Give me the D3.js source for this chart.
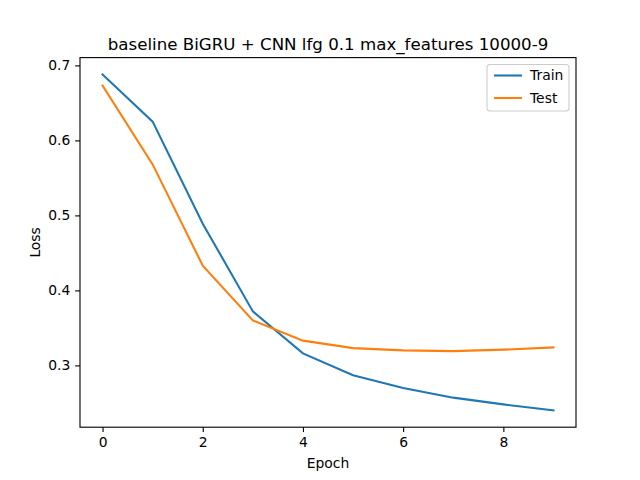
<!DOCTYPE html>
<html>
<head>
<meta charset="utf-8">
<script src="https://cdn.jsdelivr.net/npm/d3@7"></script>
<style>
  body { margin: 0; background: #fff; }
  text { font-family: "DejaVu Sans", sans-serif; fill: #000; }
</style>
</head>
<body>
<svg width="640" height="480"></svg>
<script>
// data
const epochs = [0, 1, 2, 3, 4, 5, 6, 7, 8, 9];
const trainLoss = [0.688, 0.625, 0.489, 0.372, 0.316, 0.287, 0.270, 0.257, 0.248, 0.240];
const testLoss = [0.673, 0.568, 0.433, 0.360, 0.333, 0.323, 0.320, 0.319, 0.321, 0.324];
const xTicks = [0, 2, 4, 6, 8];
const yTicks = [0.3, 0.4, 0.5, 0.6, 0.7];
const series = [
  {name: 'Train', values: trainLoss, color: '#1f77b4'},
  {name: 'Test', values: testLoss, color: '#ff7f0e'},
];

// 0. setup
// ----------------------------------
const svg = d3.select('svg');
const plotL = 80, plotR = 576, plotT = 57.6, plotB = 427.2;
const pt = 100 / 72; // matplotlib points to px at 100 dpi

const allVals = trainLoss.concat(testLoss);
const yMin = d3.min(allVals), yMax = d3.max(allVals);
const yPad = (yMax - yMin) * 0.05;
const x = d3.scaleLinear().domain([-0.45, 9.45]).range([plotL, plotR]);
const y = d3.scaleLinear().domain([yMin - yPad, yMax + yPad]).range([plotB, plotT]);

// 1. axes
// ----------------------------------
const xAxis = svg.append('g')
    .attr('transform', `translate(0,${plotB})`)
    .call(d3.axisBottom(x).tickValues(xTicks).tickSize(3.5 * pt).tickPadding(3.5 * pt)
        .tickFormat(d3.format('d')));
const yAxis = svg.append('g')
    .attr('transform', `translate(${plotL},0)`)
    .call(d3.axisLeft(y).tickValues(yTicks).tickSize(3.5 * pt).tickPadding(3.5 * pt)
        .tickFormat(d3.format('.1f')));

[xAxis, yAxis].forEach((g) => {
  g.select('.domain').remove();
  g.selectAll('line').attr('stroke', '#000').attr('stroke-width', 0.8 * pt);
  g.selectAll('text').style('font-size', `${10 * pt}px`)
      .style('font-family', '"DejaVu Sans", sans-serif');
});

svg.append('rect')
    .attr('x', plotL).attr('y', plotT)
    .attr('width', plotR - plotL).attr('height', plotB - plotT)
    .attr('fill', 'none').attr('stroke', '#000').attr('stroke-width', 0.8 * pt);

// 2. lines
// ----------------------------------
const line = d3.line()
    .x((d, i) => x(epochs[i]))
    .y((d) => y(d));

svg.selectAll('.series')
    .data(series)
    .enter()
    .append('path')
    .classed('series', true)
    .attr('d', (d) => line(d.values))
    .attr('fill', 'none')
    .attr('stroke', (d) => d.color)
    .attr('stroke-width', 1.5 * pt)
    .attr('stroke-linecap', 'square');

// 3. labels
// ----------------------------------
svg.append('text')
    .attr('x', (plotL + plotR) / 2).attr('y', 50)
    .attr('text-anchor', 'middle')
    .style('font-size', `${12 * pt}px`)
    .text('baseline BiGRU + CNN lfg 0.1 max_features 10000-9');

svg.append('text')
    .attr('x', (plotL + plotR) / 2).attr('y', 467.5)
    .attr('text-anchor', 'middle')
    .style('font-size', `${10 * pt}px`)
    .text('Epoch');

svg.append('text')
    .attr('transform', `translate(40,${(plotT + plotB) / 2}) rotate(-90)`)
    .attr('text-anchor', 'middle')
    .style('font-size', `${10 * pt}px`)
    .text('Loss');

// 4. legend
// ----------------------------------
const legend = svg.append('g').attr('transform', 'translate(487,64.5)');
legend.append('rect')
    .attr('width', 82).attr('height', 46.5).attr('rx', 3)
    .attr('fill', '#fff').attr('fill-opacity', 0.8)
    .attr('stroke', '#ccc').attr('stroke-width', 1.1);

const items = legend.selectAll('.item')
    .data(series)
    .enter()
    .append('g')
    .classed('item', true)
    .attr('transform', (d, i) => `translate(0,${11 + i * 22.5})`);
items.append('line')
    .attr('x1', 7).attr('x2', 35)
    .attr('stroke', (d) => d.color).attr('stroke-width', 1.5 * pt);
items.append('text')
    .attr('x', 43).attr('dy', '0.35em')
    .style('font-size', `${10 * pt}px`)
    .text((d) => d.name);
</script>
</body>
</html>
